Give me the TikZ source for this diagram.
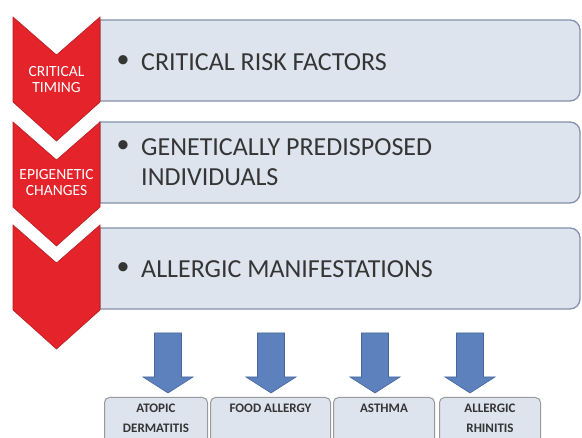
\documentclass[tikz,border=0pt]{standalone}
\usepackage{fontspec}
\setmainfont{Carlito}
\usepackage{xcolor}
\usepackage{tikz}
\usetikzlibrary{arrows.meta,positioning}
\definecolor{chevred}{HTML}{E4232B}
\definecolor{chevline}{HTML}{B81C22}
\definecolor{boxfill}{HTML}{DDE4EE}
\definecolor{boxline}{HTML}{8391AB}
\definecolor{arrfill}{HTML}{5C81BC}
\definecolor{arrline}{HTML}{46679E}
\definecolor{txtgray}{HTML}{353535}
\tikzset{
  chev/.style={fill=chevred,draw=chevline,line width=0.6pt,line join=miter},
  mainbox/.style={fill=boxfill,draw=boxline,line width=1.3pt},
  subbox/.style={fill=boxfill,draw=gray!80,line width=1pt,rounded corners=5pt,anchor=north west,inner sep=0pt},
  blockarr/.style={fill=arrfill,draw=arrline,line width=0.6pt},
  chevlbl/.style={text=white,font=\fontsize{15.5}{16}\selectfont,align=center,inner sep=0pt},
  mtext/.style={text=txtgray,font=\fontsize{26}{30}\selectfont,align=left,inner sep=0pt,anchor=west},
  bul/.style={text=txtgray,font=\fontsize{26}{30}\selectfont,inner sep=0pt},
  stext/.style={text=txtgray,font=\bfseries\fontsize{13}{20}\selectfont,align=center,inner sep=0pt},
}
\begin{document}
\begin{tikzpicture}[x=1pt,y=1pt]
\useasboundingbox (0,0) rectangle (582,-438);
\clip (0,0) rectangle (582,-438);
% list boxes, square on the left, rounded on the right
\foreach \t/\b in {20/101,122/203,228/309}
  \draw[mainbox] (100,-\t) -- (570,-\t) arc[start angle=90,end angle=0,radius=10] -- (580,-\b+10) arc[start angle=0,end angle=-90,radius=10] -- (100,-\b) -- cycle;
% red chevrons
\foreach \t in {17,122,225}
  \draw[chev] (13,-\t) -- (56.5,-\t-38) -- (100,-\t) -- (100,-\t-85) -- (56.5,-\t-124) -- (13,-\t-85) -- cycle;
\node[chevlbl] (timing) at (56.5,-80) {CRITICAL\\TIMING};
\node[chevlbl] (epigen) at (56.5,-183) {EPIGENETIC\\CHANGES};
% bullet texts
\node[bul] (b1) at (123,-62) {\textbullet};
\node[mtext] (risk) at (141,-62) {CRITICAL RISK FACTORS};
\node[bul] (b2) at (123,-147) {\textbullet};
\node[mtext] (genes) at (141,-162) {GENETICALLY PREDISPOSED\\INDIVIDUALS};
\node[bul] (b3) at (123,-269) {\textbullet};
\node[mtext] (manif) at (141,-269) {ALLERGIC MANIFESTATIONS};
% block arrows
\foreach \x in {168,271,375,470}
  \draw[blockarr] (\x-13.5,-333) -- (\x+13.5,-333) -- (\x+13.5,-377) -- (\x+25,-377) -- (\x,-393) -- (\x-25,-377) -- (\x-13.5,-377) -- cycle;
% manifestations
\node[subbox,minimum width=103,minimum height=60] (atopic) at (104,-397) {};
\node[subbox,minimum width=120,minimum height=60] (food) at (210,-397) {};
\node[subbox,minimum width=101,minimum height=60] (asthma) at (333,-397) {};
\node[subbox,minimum width=101,minimum height=60] (rhin) at (439,-397) {};
\node[stext,below=7pt of atopic.north] (tatopic) {ATOPIC\\DERMATITIS};
\node[stext,below=7pt of food.north] (tfood) {FOOD ALLERGY};
\node[stext,below=7pt of asthma.north] (tasthma) {ASTHMA};
\node[stext,below=7pt of rhin.north] (trhin) {ALLERGIC\\RHINITIS};
\end{tikzpicture}
\end{document}
